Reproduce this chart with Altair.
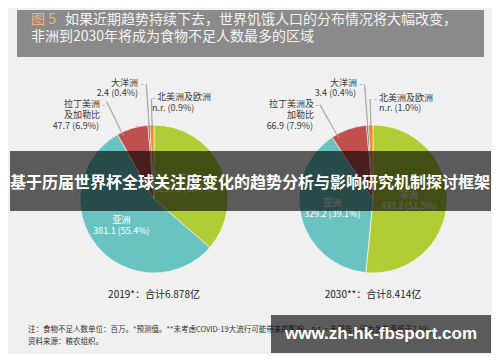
import altair as alt
import pandas as pd

# ---------------- data ----------------
YEARS = ["2019", "2030"]
YEAR_MARKS = ["2019*", "2030**"]
TOTALS = [6.878, 8.414]  # 亿
REGIONS = ["非洲", "亚洲", "拉丁美洲及加勒比", "大洋洲", "北美洲及欧洲"]
NAMES_2019 = ["非洲", "亚洲", "拉丁美洲\n及加勒比", "大洋洲", "北美洲及欧洲"]
NAMES_2030 = ["非洲", "亚洲", "拉丁美洲及\n加勒比", "大洋洲", "北美洲及欧洲"]
VALUES_2019 = [250.3, 381.1, 47.7, 2.4, None]
SHARES_2019 = [36.4, 55.4, 6.9, 0.4, 0.9]
VALUES_2030 = [433.2, 329.2, 66.9, 3.4, None]
SHARES_2030 = [51.5, 39.1, 7.9, 0.4, 1.0]
COLORS = ["#b1cd36", "#69c4c1", "#c0504d", "#44546a", "#f28b1b"]

TITLE_TAG = "图 5"
TITLE_LINE1 = "如果近期趋势持续下去，世界饥饿人口的分布情况将大幅改变，"
TITLE_LINE2 = "非洲到2030年将成为食物不足人数最多的区域"
NOTE_LINE1 = "注：食物不足人数单位：百万。*预测值。**未考虑COVID-19大流行可能带来的影响。n.r. = 未报告，因为发生率低于2.5%。"
NOTE_LINE2 = "资料来源：粮农组织。"
BANNER = "基于历届世界杯全球关注度变化的趋势分析与影响研究机制探讨框架"
WATERMARK = "www.zh-hk-fbsport.com"

FONT = "Noto Sans CJK SC"

rows = []
for year, names, vals, shares in [
    (YEARS[0], NAMES_2019, VALUES_2019, SHARES_2019),
    (YEARS[1], NAMES_2030, VALUES_2030, SHARES_2030),
]:
    for i, r in enumerate(REGIONS):
        rows.append(dict(year=year, region=r, name=names[i], value=vals[i],
                         share=shares[i], order=i))
df = pd.DataFrame(rows)

# ---------------- scales ----------------
X = alt.X("year:N", scale=alt.Scale(type="point", domain=YEARS, range=[146, 365], padding=0), axis=None)
Y = alt.value(191)
TH = alt.Scale(domain=[0, 100], range=[0, 6.283185307179586])

base = (
    alt.Chart(df)
    .transform_joinaggregate(total="sum(share)", groupby=["year"])
    .transform_window(cum="sum(share)", groupby=["year"], sort=[alt.SortField("order", order="ascending")])
    .transform_calculate(t1="100 * datum.cum / datum.total")
    .transform_calculate(t0="100 * (datum.cum - datum.share) / datum.total")
    .transform_calculate(tm="(datum.t0 + datum.t1) / 2")
    .transform_calculate(lead="datum.region == '拉丁美洲及加勒比' ? datum.t0 + 0.14 * (datum.t1 - datum.t0) : datum.tm")
    .transform_calculate(lead2="datum.lead + 0.08")
    .transform_calculate(vtxt="(isValid(datum.value) ? format(datum.value, '.1f') : 'n.r.') + ' (' + format(datum.share, '.1f') + '%)'")
    .transform_calculate(itxt="datum.name + '\\n' + datum.vtxt")
)

layers = []

# pies
layers.append(
    base.mark_arc(outerRadius=74, stroke="white", strokeWidth=0.6).encode(
        x=X, y=Y,
        theta=alt.Theta("t0:Q", scale=TH),
        theta2=alt.Theta2("t1"),
        color=alt.Color("region:N", scale=alt.Scale(domain=REGIONS, range=COLORS), legend=None),
    )
)

# leader lines (thin radial arcs)
for region, r_out in [("大洋洲", 115), ("北美洲及欧洲", 100), ("拉丁美洲及加勒比", 108)]:
    layers.append(
        base.transform_filter(alt.datum.region == region)
        .mark_arc(innerRadius=70, outerRadius=r_out, fill="#9a9a9a", stroke="#9a9a9a", strokeWidth=0.5)
        .encode(x=X, y=Y, theta=alt.Theta("lead:Q", scale=TH), theta2=alt.Theta2("lead2"))
    )

# inside labels
for region, rad in [("非洲", 36), ("亚洲", 42)]:
    layers.append(
        base.transform_filter(alt.datum.region == region)
        .mark_text(font=FONT, fontSize=9, color="white", align="center", baseline="top",
                   lineBreak="\n", lineHeight=11, dy=-10)
        .encode(
            x=X, y=Y,
            theta=alt.Theta("tm:Q", scale=TH),
            radius=alt.value(rad),
            text="itxt:N",
        )
    )

# outer labels: (align, dx, dy-of-first-line-centre)
LAYOUT = {
    "2019": {
        "大洋洲": dict(name=("right", -16, -115), value=("right", -16, -105), dash=(-12, -115)),
        "北美洲及欧洲": dict(name=("left", 3, -101), value=("left", -2, -90), dash=(-0.5, -101)),
        "拉丁美洲及加勒比": dict(name=("right", -54, -94), value=("right", -55, -72), dash=(-50.5, -94)),
    },
    "2030": {
        "大洋洲": dict(name=("right", -16, -115), value=("right", -17, -105), dash=(-12, -115)),
        "北美洲及欧洲": dict(name=("left", 6, -100), value=("left", 6, -90), dash=(2, -100)),
        "拉丁美洲及加勒比": dict(name=("right", -59, -94), value=("right", -60, -72), dash=(-56, -94)),
    },
}
for year, regs in LAYOUT.items():
    for region, spec in regs.items():
        sel = base.transform_filter((alt.datum.region == region) & (alt.datum.year == year))
        for part, field in [("name", "name"), ("value", "vtxt")]:
            align, dx, dy = spec[part]
            layers.append(
                sel.mark_text(font=FONT, fontSize=9, color="#3a3a3a", align=align, baseline="top",
                              lineBreak="\n", lineHeight=11, dx=dx, dy=dy - 5)
                .encode(x=X, y=Y, text=f"{field}:N")
            )
        ddx, ddy = spec["dash"]
        layers.append(
            sel.mark_text(font=FONT, fontSize=9, color="#9a9a9a", align="center", baseline="middle",
                          text="-", dx=ddx, dy=ddy)
            .encode(x=X, y=Y)
        )

# pie subtitles
sub = pd.DataFrame({"year": YEARS, "mark": YEAR_MARKS, "total": TOTALS})
layers.append(
    alt.Chart(sub)
    .transform_calculate(lab="datum.mark + '：合计' + format(datum.total, '.3f') + '亿'")
    .mark_text(font=FONT, fontSize=10, color="#222222", align="center", baseline="middle")
    .encode(x=X, y=alt.value(287), text="lab:N")
)

# title box
tdf = pd.DataFrame({"tag": [TITLE_TAG], "l1": [TITLE_LINE1], "l2": [TITLE_LINE2]})
tch = alt.Chart(tdf)
layers.append(tch.mark_rect(color="#8a8a8a").encode(
    x=alt.value(9), x2=alt.value(476), y=alt.value(2), y2=alt.value(49)))
layers.append(tch.mark_text(font=FONT, fontSize=14, color="#f6b27c", align="left", baseline="middle")
              .encode(x=alt.value(23), y=alt.value(12), text="tag:N"))
layers.append(tch.mark_text(font=FONT, fontSize=14, color="#f4f4f4", align="left", baseline="middle")
              .encode(x=alt.value(57), y=alt.value(12), text="l1:N"))
layers.append(tch.mark_text(font=FONT, fontSize=14, color="#f4f4f4", align="left", baseline="middle")
              .encode(x=alt.value(23), y=alt.value(28.5), text="l2:N"))

# footnote
ndf = pd.DataFrame({"n1": [NOTE_LINE1], "n2": [NOTE_LINE2]})
nch = alt.Chart(ndf)
layers.append(nch.mark_text(font=FONT, fontSize=7.5, color="#333333", align="left", baseline="middle")
              .encode(x=alt.value(20), y=alt.value(322), text="n1:N"))
layers.append(nch.mark_text(font=FONT, fontSize=7.5, color="#333333", align="left", baseline="middle")
              .encode(x=alt.value(20), y=alt.value(334), text="n2:N"))

# banner overlay
bdf = pd.DataFrame({"b": [BANNER]})
bch = alt.Chart(bdf)
layers.append(bch.mark_rect(color="black", opacity=0.62).encode(
    x=alt.value(2), x2=alt.value(483), y=alt.value(143), y2=alt.value(203)))
layers.append(bch.mark_text(font=FONT, fontSize=16, fontWeight="bold", color="white",
                            align="center", baseline="middle")
              .encode(x=alt.value(242), y=alt.value(175), text="b:N"))

# watermark overlay
wdf = pd.DataFrame({"w": [WATERMARK]})
wch = alt.Chart(wdf)
layers.append(wch.mark_rect(color="black", opacity=0.62).encode(
    x=alt.value(263), x2=alt.value(483), y=alt.value(307), y2=alt.value(345)))
layers.append(wch.mark_text(font="Liberation Sans", fontSize=17, fontWeight="bold", color="white",
                            align="center", baseline="middle")
              .encode(x=alt.value(373), y=alt.value(326), text="w:N"))

chart = (
    alt.layer(*layers)
    .properties(width=484, height=346, background="#f0f0f0", padding=0,
                autosize=alt.AutoSizeParams(type="none"))
    .configure_view(strokeWidth=0)
)

chart.save("out.html", embed_options={"renderer": "svg", "actions": False})
